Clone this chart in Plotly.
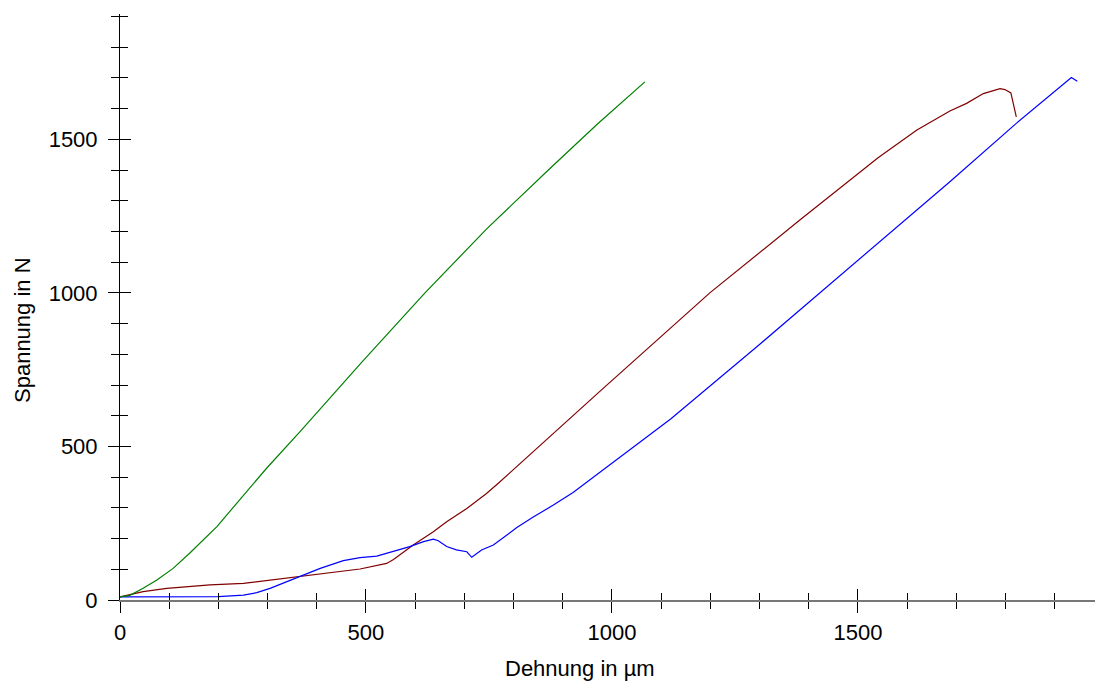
import plotly.graph_objects as go

# Green series (strain in µm, force in N)
green_x = [0, 20, 47, 75, 108, 142, 197, 244, 298, 366, 493, 620, 747, 874, 970, 1067]
green_y = [10, 15, 38, 65, 103, 153, 239, 326, 429, 548, 777, 1000, 1211, 1405, 1549, 1687]

# Dark red series
red_x = [0, 47, 95, 183, 251, 318, 366, 427, 488, 542, 556, 596, 637, 664, 705, 745, 769, 976, 1199, 1382, 1541, 1620, 1687, 1721, 1755, 1789, 1799, 1811, 1822]
red_y = [10, 27, 38, 49, 54, 67, 77, 87, 101, 119, 132, 179, 222, 255, 298, 347, 380, 680, 1000, 1237, 1440, 1530, 1592, 1617, 1649, 1665, 1662, 1651, 1573]

# Blue series
blue_x = [0, 100, 200, 251, 278, 305, 339, 366, 407, 454, 488, 522, 549, 589, 617, 637, 647, 664, 684, 705, 715, 735, 759, 806, 840, 881, 921, 955, 1120, 1300, 1500, 1687, 1822, 1934, 1946]
blue_y = [10, 10, 11, 16, 24, 38, 60, 77, 103, 128, 138, 143, 155, 174, 190, 198, 193, 174, 163, 157, 139, 163, 179, 235, 270, 309, 350, 391, 590, 832, 1106, 1362, 1552, 1701, 1689]

x_title = "Dehnung in µm"
y_title = "Spannung in N"

FONT = dict(family="Liberation Sans, Arial, sans-serif", size=22, color="black")

fig = go.Figure()
fig.add_trace(go.Scatter(x=red_x, y=red_y, mode="lines", line=dict(color="#800000", width=1.2), xaxis="x", yaxis="y"))
fig.add_trace(go.Scatter(x=blue_x, y=blue_y, mode="lines", line=dict(color="#0000FF", width=1.2), xaxis="x", yaxis="y"))
fig.add_trace(go.Scatter(x=green_x, y=green_y, mode="lines", line=dict(color="#008000", width=1.2), xaxis="x2", yaxis="y2"))

XR = [0, 1982]
YR = [0, 1908]

common_x = dict(range=XR, showgrid=False, zeroline=False, tick0=0, dtick=500, automargin=False)
common_y = dict(range=YR, showgrid=False, zeroline=False, tick0=0, dtick=500, automargin=False)

fig.update_layout(
    template="none",
    width=1095, height=684,
    margin=dict(l=120, r=0, t=14, b=84, autoexpand=False),
    paper_bgcolor="white", plot_bgcolor="white",
    showlegend=False,
    font=FONT,
    xaxis=dict(**common_x, showline=True, linecolor="#777777", linewidth=2,
               ticks="outside", ticklen=11, tickcolor="black", tickwidth=1,
               minor=dict(ticks="outside", ticklen=7, dtick=100, tickcolor="black", tickwidth=1),
               tickfont=FONT, anchor="y", ticklabelstandoff=1),
    yaxis=dict(**common_y, showline=True, linecolor="black", linewidth=1,
               ticks="outside", ticklen=11, tickcolor="black", tickwidth=1,
               minor=dict(ticks="outside", ticklen=8, dtick=100, tickcolor="black", tickwidth=1),
               tickfont=FONT, anchor="x", ticklabelstandoff=6),
    xaxis2=dict(**common_x, overlaying="x", matches="x", anchor="y2", showline=False,
                ticks="inside", ticklen=11, tickcolor="black", tickwidth=1,
                minor=dict(ticks="inside", ticklen=7, dtick=100, tickcolor="black", tickwidth=1),
                showticklabels=False),
    yaxis2=dict(**common_y, overlaying="y", matches="y", anchor="x2", showline=False,
                ticks="inside", ticklen=11, tickcolor="black", tickwidth=1,
                minor=dict(ticks="inside", ticklen=8, dtick=100, tickcolor="black", tickwidth=1),
                showticklabels=False),
    annotations=[
        dict(text=x_title, xref="paper", yref="paper", x=(580 - 120) / 975, y=-68 / 586,
             xanchor="center", yanchor="middle", showarrow=False, font=FONT),
        dict(text=y_title, xref="paper", yref="paper", x=-98 / 975, y=(600 - 330) / 586,
             xanchor="center", yanchor="middle", showarrow=False, textangle=-90, font=FONT),
    ],
)

fig.write_html(
    "out.html",
    config={"displayModeBar": False},
    post_script="document.body.style.margin='0px';document.body.style.overflow='hidden';",
)
